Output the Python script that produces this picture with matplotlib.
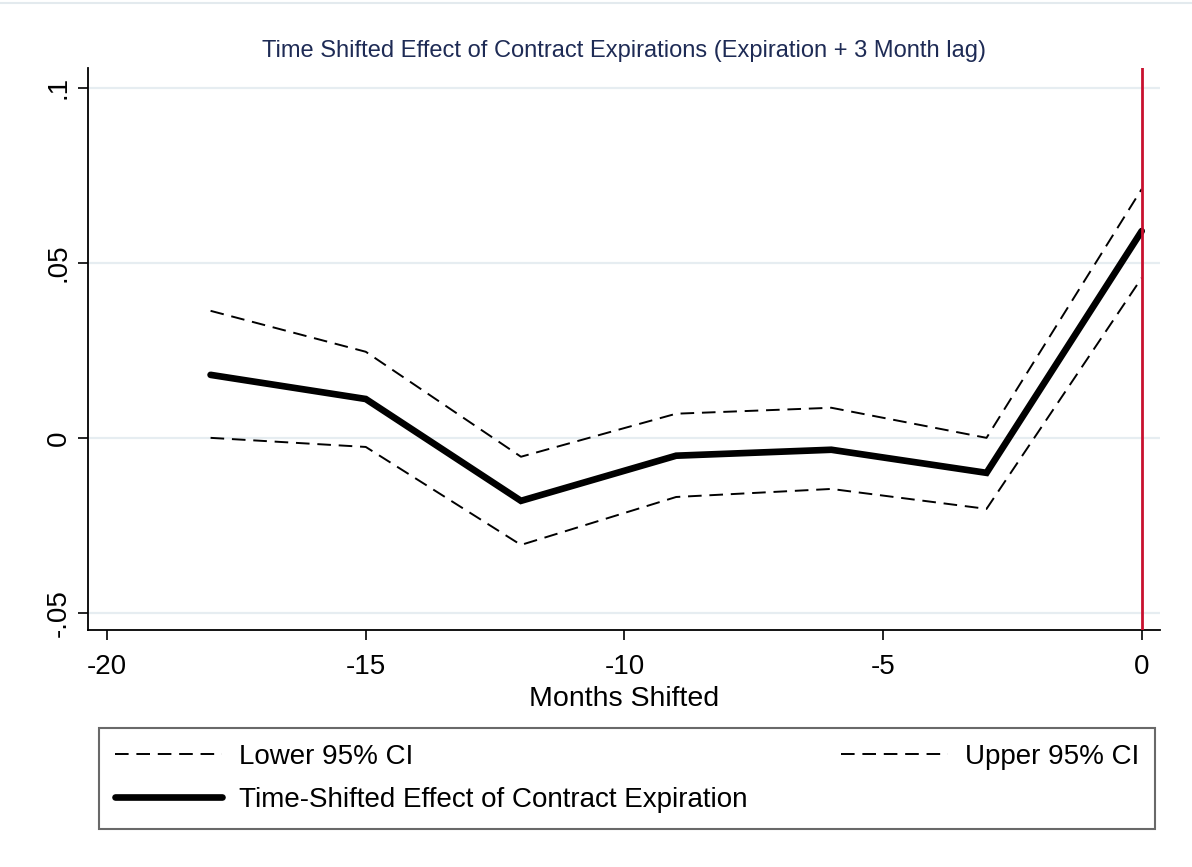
import numpy as np
import matplotlib
matplotlib.use("Agg")
import matplotlib.pyplot as plt
from matplotlib.lines import Line2D

plt.rcParams['font.family'] = ['Liberation Sans', 'DejaVu Sans']
plt.rcParams['axes.unicode_minus'] = False

# months shifted relative to expiration
months = [-18, -15, -12, -9, -6, -3, 0]
effect = [0.0180, 0.0111, -0.0180, -0.0051, -0.0034, -0.0100, 0.0591]
upper_ci = [0.0363, 0.0246, -0.0054, 0.0069, 0.0086, 0.0000, 0.0711]
lower_ci = [0.0000, -0.0026, -0.0306, -0.0169, -0.0146, -0.0203, 0.0457]

yticks = [-0.05, 0, 0.05, 0.1]
ytick_labels = ['-.05', '0', '.05', '.1']
xticks = [-20, -15, -10, -5, 0]

fig = plt.figure(figsize=(11.92, 8.67), dpi=100)
ax = fig.add_axes([0.0738, 0.2734, 0.8992, 0.6482])

grid_c = '#e6edf1'
for y in yticks:
    ax.axhline(y, color=grid_c, linewidth=1.6, zorder=0)

dash = (0, (7, 4))
l1, = ax.plot(months, lower_ci, color='black', linestyle=dash, linewidth=1.4,
              label='Lower 95% CI')
l2, = ax.plot(months, upper_ci, color='black', linestyle=dash, linewidth=1.4,
              label='Upper 95% CI')
l3, = ax.plot(months, effect, color='black', linewidth=4.8, solid_capstyle='round',
              solid_joinstyle='miter', label='Time-Shifted Effect of Contract Expiration')
ax.axvline(0, color='#c8102e', linewidth=2, zorder=5)

ax.set_xlim(-20.37, 0.35)
ax.set_ylim(-0.0549, 0.1057)
ax.set_xticks(xticks)
ax.set_yticks(yticks)
ax.set_yticklabels(ytick_labels, rotation=90, va='center')
ax.tick_params(axis='both', length=7.5, width=1.2, labelsize=20, pad=4)
ax.tick_params(axis='x', pad=10)
for s in ['top', 'right']:
    ax.spines[s].set_visible(False)
for s in ['left', 'bottom']:
    ax.spines[s].set_linewidth(1.3)
ax.set_xlabel('Months Shifted', fontsize=20.5, labelpad=4)
ax.set_title('Time Shifted Effect of Contract Expirations (Expiration + 3 Month lag)',
             fontsize=17, color='#1e2b55', pad=8)

leg = fig.legend(handles=[l1, l3, l2], ncol=2, mode='expand',
                 bbox_to_anchor=(99 / 1192, 1 - 829 / 867, 1056 / 1192, 98 / 867),
                 loc='lower left', borderaxespad=0, fontsize=20, frameon=True,
                 fancybox=False, handlelength=3.85, handletextpad=0.6,
                 borderpad=0.58, labelspacing=0.62)
leg.get_frame().set_edgecolor('#444444')
leg.get_frame().set_linewidth(1.5)

# faint top border
fig.add_artist(Line2D([0, 1], [1 - 3 / 867, 1 - 3 / 867], transform=fig.transFigure,
                      color='#e3eaee', linewidth=1.5))

fig.savefig('out.png', dpi=100)
